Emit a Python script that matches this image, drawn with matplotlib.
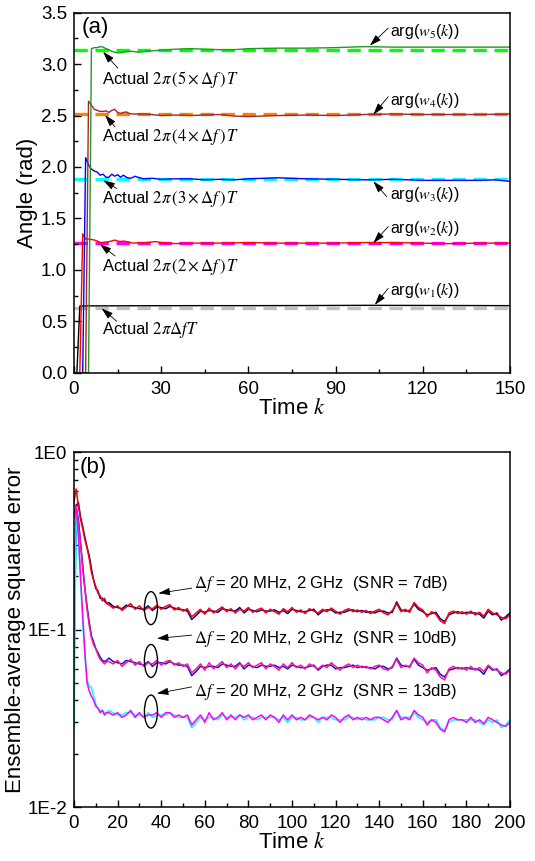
import numpy as np
import matplotlib
matplotlib.use("Agg")
import matplotlib.pyplot as plt
from matplotlib.patches import Ellipse
from matplotlib.ticker import MultipleLocator, LogLocator, FixedLocator, FuncFormatter

plt.rcParams['font.family'] = ['Liberation Sans', 'DejaVu Sans']
plt.rcParams['mathtext.fontset'] = 'stix'

# ---------------- panel (a) data ----------------
true_angles = [0.6283, 1.2566, 1.8850, 2.5133, 3.1416]
dash_colors = ['#C0C0C0', '#FF00FF', '#00FFFF', '#FF8000', '#00FF00']
solid_colors = ['#000000', '#FF0000', '#0000FF', '#A02828', '#22962A']

k_w1 = [0, 1, 2, 5, 10, 20, 40, 60, 80, 100, 120, 150]
w1 = [0, 0, 0.648, 0.650, 0.650, 0.651, 0.652, 0.652, 0.653, 0.655, 0.654, 0.652]

k_w2 = [0, 1, 2, 3, 4, 5, 6, 7, 8, 9, 10, 11, 12, 13, 14, 15, 16, 17, 18, 19, 20,
        25, 28, 30, 35, 40, 50, 60, 70, 80, 90, 100, 110, 120, 125, 130, 140, 150]
w2 = [0, 0, 0, 1.35, 1.30, 1.30, 1.295, 1.29, 1.28, 1.265, 1.265, 1.27, 1.275, 1.28,
      1.29, 1.28, 1.275, 1.28, 1.275, 1.27, 1.26, 1.265, 1.275, 1.265, 1.255, 1.26,
      1.26, 1.265, 1.26, 1.26, 1.26, 1.265, 1.265, 1.26, 1.255, 1.255, 1.26, 1.26]

k_w3 = [0, 1, 2, 3, 4, 5, 6, 7, 8, 9, 10, 11, 12, 13, 14, 15, 16, 17, 18, 19, 20,
        21, 22, 24, 27, 30, 35, 40, 45, 50, 55, 60, 70, 80, 90, 100, 110, 120, 130,
        140, 145, 150]
w3 = [0, 0, 0, 0, 2.09, 2.02, 1.98, 1.96, 1.95, 1.92, 1.93, 1.90, 1.90, 1.93, 1.91,
      1.925, 1.90, 1.92, 1.90, 1.89, 1.895, 1.91, 1.90, 1.885, 1.89, 1.88, 1.885,
      1.885, 1.875, 1.88, 1.875, 1.885, 1.895, 1.885, 1.88, 1.875, 1.88, 1.87, 1.87,
      1.87, 1.875, 1.86]

k_w4 = [0, 1, 2, 3, 4, 5, 6, 7, 8, 9, 10, 11, 12, 13, 14, 15, 16, 17, 18, 19, 20,
        25, 30, 35, 40, 45, 50, 55, 60, 70, 80, 90, 100, 110, 120, 130, 140, 150]
w4 = [0, 0, 0, 0, 0, 2.64, 2.60, 2.56, 2.55, 2.54, 2.54, 2.545, 2.53, 2.55, 2.56,
      2.53, 2.52, 2.53, 2.535, 2.52, 2.515, 2.515, 2.50, 2.505, 2.50, 2.505, 2.51,
      2.495, 2.49, 2.50, 2.505, 2.50, 2.51, 2.515, 2.51, 2.51, 2.51, 2.515]

k_w5 = [0, 1, 2, 3, 4, 5, 6, 7, 8, 9, 10, 11, 12, 13, 14, 15, 16, 17, 18, 19, 20,
        22, 25, 30, 35, 40, 45, 50, 55, 60, 70, 80, 90, 100, 110, 120, 130, 140, 150]
w5 = [0, 0, 0, 0, 0, 0, 3.15, 3.16, 3.16, 3.17, 3.165, 3.15, 3.14, 3.125, 3.115,
      3.11, 3.11, 3.115, 3.12, 3.125, 3.125, 3.115, 3.125, 3.135, 3.145, 3.15, 3.145,
      3.14, 3.14, 3.15, 3.155, 3.155, 3.16, 3.17, 3.165, 3.165, 3.165, 3.165, 3.165]

actual_labels = [r'Actual $2\pi\Delta fT$',
                 r'Actual $2\pi\,(2\times\Delta f\,)\,T$',
                 r'Actual $2\pi\,(3\times\Delta f\,)\,T$',
                 r'Actual $2\pi\,(4\times\Delta f\,)\,T$',
                 r'Actual $2\pi\,(5\times\Delta f\,)\,T$']
arg_labels = [r'arg($w_{%d}$($k$))' % i for i in range(1, 6)]

# ---------------- panel (b) data ----------------
k_err = list(range(0, 16)) + list(range(16, 201, 2))

red7 = [0.52, 0.62, 0.50, 0.42, 0.37, 0.32, 0.29, 0.25, 0.21, 0.19, 0.175, 0.16, 0.155, 0.145, 0.15, 0.14,
        0.138, 0.132, 0.136, 0.128, 0.134, 0.140, 0.130, 0.136, 0.128, 0.133, 0.131, 0.137, 0.130, 0.135,
        0.138, 0.129, 0.133, 0.127, 0.131, 0.118, 0.124, 0.130, 0.122, 0.132, 0.124, 0.129, 0.134, 0.126,
        0.131, 0.124, 0.130, 0.127, 0.133, 0.125, 0.129, 0.132, 0.124, 0.130, 0.126, 0.122, 0.131, 0.126,
        0.133, 0.125, 0.129, 0.123, 0.131, 0.127, 0.124, 0.130, 0.126, 0.132, 0.127, 0.122, 0.128, 0.131,
        0.126, 0.129, 0.125, 0.128, 0.123, 0.127, 0.130, 0.124, 0.121, 0.128, 0.140, 0.126, 0.130, 0.125,
        0.142, 0.133, 0.129, 0.118, 0.126, 0.122, 0.112, 0.108, 0.124, 0.127, 0.123, 0.126, 0.122, 0.127,
        0.121, 0.125, 0.119, 0.130, 0.124, 0.121, 0.117, 0.115, 0.121]
navy7 = [0.11, 0.50, 0.52, 0.43, 0.38, 0.33, 0.29, 0.26, 0.22, 0.19, 0.17, 0.165, 0.15, 0.15, 0.145, 0.14,
         0.142, 0.135, 0.133, 0.131, 0.137, 0.135, 0.133, 0.131, 0.130, 0.136, 0.128, 0.134, 0.133, 0.131,
         0.135, 0.132, 0.130, 0.129, 0.127, 0.114, 0.120, 0.127, 0.125, 0.128, 0.127, 0.125, 0.131, 0.129,
         0.128, 0.127, 0.133, 0.124, 0.130, 0.128, 0.126, 0.129, 0.127, 0.127, 0.129, 0.125, 0.128, 0.123,
         0.130, 0.128, 0.126, 0.126, 0.128, 0.130, 0.121, 0.127, 0.129, 0.129, 0.124, 0.125, 0.125, 0.128,
         0.129, 0.126, 0.128, 0.125, 0.126, 0.124, 0.127, 0.127, 0.124, 0.125, 0.143, 0.129, 0.127, 0.128,
         0.139, 0.130, 0.126, 0.121, 0.123, 0.125, 0.115, 0.111, 0.121, 0.124, 0.126, 0.123, 0.125, 0.124,
         0.124, 0.122, 0.116, 0.127, 0.121, 0.124, 0.113, 0.118, 0.124]
pink10 = [0.45, 0.50, 0.40, 0.30, 0.22, 0.17, 0.13, 0.105, 0.09, 0.082, 0.078, 0.072, 0.068, 0.066, 0.064, 0.066,
          0.066, 0.064, 0.067, 0.062, 0.065, 0.068, 0.063, 0.066, 0.062, 0.065, 0.064, 0.067, 0.063, 0.066,
          0.067, 0.063, 0.065, 0.062, 0.064, 0.057, 0.060, 0.064, 0.059, 0.065, 0.060, 0.063, 0.066, 0.061,
          0.064, 0.060, 0.064, 0.062, 0.065, 0.061, 0.063, 0.065, 0.060, 0.064, 0.062, 0.059, 0.064, 0.061,
          0.065, 0.061, 0.063, 0.060, 0.064, 0.062, 0.060, 0.063, 0.061, 0.065, 0.062, 0.059, 0.062, 0.064,
          0.061, 0.063, 0.061, 0.062, 0.060, 0.062, 0.063, 0.060, 0.059, 0.062, 0.068, 0.061, 0.063, 0.061,
          0.069, 0.065, 0.063, 0.057, 0.061, 0.059, 0.054, 0.052, 0.060, 0.062, 0.060, 0.061, 0.059, 0.062,
          0.059, 0.061, 0.058, 0.063, 0.060, 0.059, 0.057, 0.056, 0.059]
blue10 = [0.06, 0.48, 0.42, 0.31, 0.23, 0.17, 0.135, 0.11, 0.092, 0.085, 0.078, 0.074, 0.070, 0.067, 0.066, 0.067,
          0.069, 0.066, 0.065, 0.064, 0.067, 0.066, 0.065, 0.064, 0.063, 0.066, 0.062, 0.065, 0.065, 0.064,
          0.066, 0.064, 0.063, 0.063, 0.062, 0.055, 0.058, 0.062, 0.061, 0.062, 0.062, 0.061, 0.064, 0.063,
          0.062, 0.062, 0.065, 0.060, 0.063, 0.062, 0.061, 0.063, 0.062, 0.062, 0.063, 0.061, 0.062, 0.060,
          0.063, 0.062, 0.061, 0.061, 0.062, 0.063, 0.059, 0.062, 0.063, 0.063, 0.060, 0.061, 0.061, 0.062,
          0.063, 0.061, 0.062, 0.061, 0.061, 0.060, 0.062, 0.062, 0.060, 0.061, 0.069, 0.063, 0.062, 0.062,
          0.068, 0.063, 0.061, 0.059, 0.060, 0.061, 0.056, 0.054, 0.059, 0.060, 0.061, 0.060, 0.061, 0.060,
          0.060, 0.059, 0.056, 0.062, 0.059, 0.060, 0.055, 0.057, 0.060]
mag13 = [0.43, 0.49, 0.35, 0.20, 0.12, 0.075, 0.05, 0.045, 0.042, 0.040, 0.037, 0.036, 0.034, 0.035, 0.033, 0.034,
         0.034, 0.033, 0.034, 0.032, 0.033, 0.035, 0.032, 0.034, 0.032, 0.033, 0.033, 0.034, 0.032, 0.034,
         0.034, 0.032, 0.033, 0.032, 0.033, 0.029, 0.031, 0.033, 0.030, 0.034, 0.031, 0.032, 0.034, 0.031,
         0.033, 0.031, 0.033, 0.032, 0.033, 0.031, 0.032, 0.033, 0.031, 0.033, 0.032, 0.030, 0.033, 0.031,
         0.033, 0.031, 0.032, 0.031, 0.033, 0.032, 0.031, 0.032, 0.031, 0.033, 0.032, 0.030, 0.032, 0.033,
         0.031, 0.032, 0.031, 0.032, 0.031, 0.032, 0.032, 0.031, 0.030, 0.032, 0.035, 0.031, 0.032, 0.031,
         0.035, 0.033, 0.032, 0.029, 0.031, 0.030, 0.0275, 0.0265, 0.031, 0.032, 0.031, 0.031, 0.030, 0.032,
         0.030, 0.031, 0.0295, 0.032, 0.031, 0.030, 0.029, 0.0285, 0.030]
cyan13 = [0.028, 0.45, 0.33, 0.19, 0.11, 0.07, 0.052, 0.048, 0.047, 0.042, 0.038, 0.036, 0.035, 0.035, 0.034, 0.034,
          0.035, 0.034, 0.033, 0.033, 0.034, 0.034, 0.033, 0.033, 0.032, 0.034, 0.032, 0.033, 0.033, 0.033,
          0.034, 0.033, 0.032, 0.032, 0.032, 0.028, 0.030, 0.032, 0.031, 0.032, 0.032, 0.031, 0.033, 0.032,
          0.032, 0.032, 0.033, 0.031, 0.032, 0.032, 0.031, 0.032, 0.032, 0.032, 0.032, 0.031, 0.032, 0.030,
          0.032, 0.032, 0.031, 0.031, 0.032, 0.032, 0.030, 0.032, 0.032, 0.032, 0.031, 0.031, 0.031, 0.032,
          0.032, 0.031, 0.032, 0.031, 0.031, 0.031, 0.032, 0.032, 0.031, 0.031, 0.035, 0.032, 0.032, 0.032,
          0.034, 0.032, 0.031, 0.030, 0.031, 0.031, 0.028, 0.027, 0.030, 0.031, 0.031, 0.031, 0.031, 0.031,
          0.031, 0.030, 0.029, 0.031, 0.030, 0.031, 0.028, 0.029, 0.031]

snr_labels = [r'$\Delta f$ = 20 MHz, 2 GHz  (SNR = 7dB)',
              r'$\Delta f$ = 20 MHz, 2 GHz  (SNR = 10dB)',
              r'$\Delta f$ = 20 MHz, 2 GHz  (SNR = 13dB)']

fig = plt.figure(figsize=(5.35, 8.61), dpi=100)
ax1 = fig.add_axes([0.1383, 0.5671, 0.815, 0.4182])
ax2 = fig.add_axes([0.1383, 0.0627, 0.815, 0.4123])


def style_axes(ax):
    for s in ax.spines.values():
        s.set_linewidth(1.1)
    ax.tick_params(which='both', direction='in', top=False, right=False, labelsize=13.5, width=1.0)
    ax.tick_params(which='major', length=5)
    ax.tick_params(axis='x', which='major', pad=6)
    ax.tick_params(axis='y', which='major', pad=5)
    ax.tick_params(which='minor', length=3)


# ---------------- panel (a) ----------------
for v, c in zip(true_angles, dash_colors):
    ax1.axhline(v, color=c, lw=2.4, dashes=(4, 2.3), zorder=1)
for kk, ww, c in zip([k_w1, k_w2, k_w3, k_w4, k_w5], [w1, w2, w3, w4, w5], solid_colors):
    ax1.plot(kk, ww, color=c, lw=1.0, zorder=2)

ax1.set_xlim(0, 150)
ax1.set_ylim(0, 3.5)
ax1.xaxis.set_major_locator(MultipleLocator(30))
ax1.xaxis.set_minor_locator(MultipleLocator(15))
ax1.yaxis.set_major_locator(MultipleLocator(0.5))
ax1.yaxis.set_minor_locator(MultipleLocator(0.25))
ax1.yaxis.set_major_formatter(FuncFormatter(lambda v, p: '%.1f' % v))
style_axes(ax1)
ax1.set_xlabel(r'Time $k$', fontsize=16, labelpad=0)
ax1.set_ylabel('Angle (rad)', fontsize=16, labelpad=2)
ax1.text(0.018, 0.958, '(a)', transform=ax1.transAxes, fontsize=16, ha='left', va='center')

arrow = dict(arrowstyle='-|>,head_length=0.7,head_width=0.22', color='black', lw=0.6,
             shrinkA=0, shrinkB=0)
# left annotations: (text y, arrow head, arrow tail)
act_text_y = [0.415, 1.03, 1.686, 2.29, 2.846]
act_head = [(9.5, 0.625), (8.9, 1.25), (10.1, 1.87), (10.7, 2.505), (10.0, 3.12)]
act_tail = [(14.7, 0.50), (14.1, 1.135), (14.7, 1.79), (14.1, 2.39), (15.1, 2.96)]
for lab, ty, hd, tl in zip(actual_labels, act_text_y, act_head, act_tail):
    ax1.text(9.6, ty, lab, fontsize=12, ha='left', va='center')
    ax1.annotate('', xy=hd, xytext=tl, arrowprops=arrow)

arg_text_y = [0.804, 1.404, 1.728, 2.65, 3.315]
arg_head = [(103.5, 0.66), (103.0, 1.262), (103.0, 1.86), (103.0, 2.51), (101.8, 3.18)]
arg_tail = [(108.1, 0.82), (108.1, 1.42), (107.6, 1.711), (108.1, 2.683), (108.1, 3.35)]
for lab, ty, hd, tl in zip(arg_labels, arg_text_y, arg_head, arg_tail):
    ax1.text(108.7, ty, lab, fontsize=11.5, ha='left', va='center')
    ax1.annotate('', xy=hd, xytext=tl, arrowprops=arrow)

# ---------------- panel (b) ----------------
pairs = [(navy7, '#000090', red7, '#FF0000'),
         (blue10, '#1010D0', pink10, '#FF1493'),
         (cyan13, '#00FFFF', mag13, '#FF00FF')]
for a, ca, b, cb in pairs:
    ax2.plot(k_err, a, color=ca, lw=1.1)
    ax2.plot(k_err, b, color=cb, lw=1.1)

ax2.set_yscale('log')
ax2.set_xlim(0, 200)
ax2.set_ylim(1e-2, 1)
ax2.xaxis.set_major_locator(MultipleLocator(20))
ax2.xaxis.set_minor_locator(MultipleLocator(10))
ax2.yaxis.set_major_locator(FixedLocator([1e-2, 1e-1, 1]))
ax2.yaxis.set_minor_locator(LogLocator(base=10, subs=np.arange(2, 10)))
ax2.yaxis.set_minor_formatter(FuncFormatter(lambda v, p: ''))
ax2.yaxis.set_major_formatter(FuncFormatter(lambda v, p: '1E%d' % round(np.log10(v))))
style_axes(ax2)
ax2.set_xlabel(r'Time $k$', fontsize=16, labelpad=0)
ax2.set_ylabel('Ensemble-average squared error', fontsize=16, labelpad=1)
ax2.text(0.014, 0.956, '(b)', transform=ax2.transAxes, fontsize=16, ha='left', va='center')

snr_text_y = [0.18, 0.089, 0.0447]
snr_head = [(38.7, 0.16), (38.0, 0.089), (38.0, 0.0436)]
snr_tail = [(54.0, 0.171), (54.0, 0.093), (54.0, 0.0475)]
ell_y = [0.132, 0.0665, 0.0345]
for lab, ty, hd, tl, ey in zip(snr_labels, snr_text_y, snr_head, snr_tail, ell_y):
    ax2.text(55, ty, lab, fontsize=12, ha='left', va='center')
    ax2.annotate('', xy=hd, xytext=tl, arrowprops=arrow)
    cx, cy = ax2.transAxes.inverted().transform(ax2.transData.transform((35.3, ey)))
    ax2.add_patch(Ellipse((cx, cy), 0.03, 0.093, transform=ax2.transAxes,
                          fill=False, ec='black', lw=1.0, zorder=5))

fig.savefig('out.png', dpi=100)
